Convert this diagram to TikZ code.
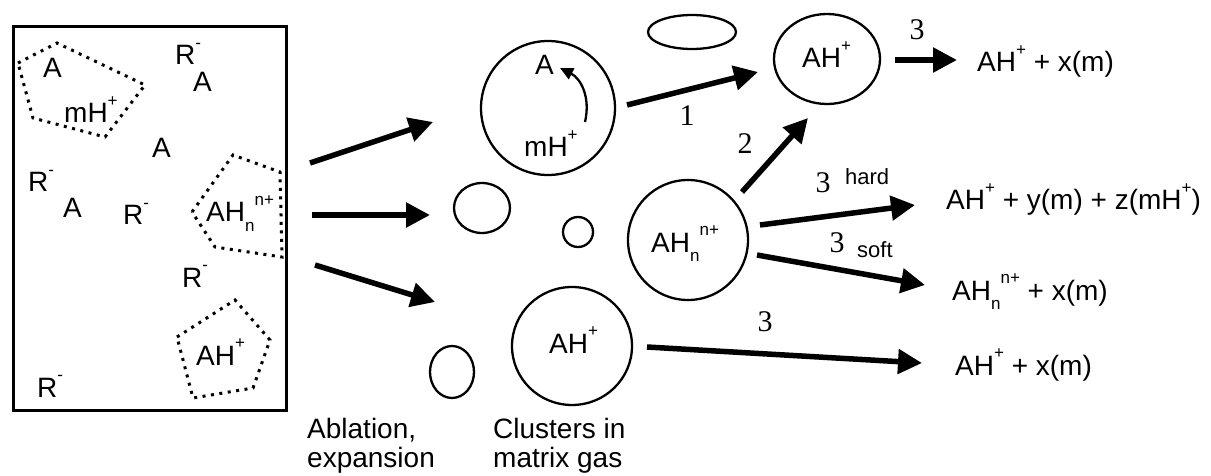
\documentclass[tikz,border=0pt]{standalone}
\usepackage{fontspec}
\setmainfont{Liberation Sans}
\newfontfamily\numfont{Liberation Serif}
\usetikzlibrary{arrows.meta,shapes.geometric}
% raised / lowered small text for charges and indices
\newcommand\sps[1]{\raisebox{0.6em}{\fontsize{17}{17}\selectfont #1}}
\newcommand\sbs[1]{\raisebox{-0.33em}{\fontsize{17}{17}\selectfont #1}}
\begin{document}
\begin{tikzpicture}[x=1pt,y=-1pt,
  txt/.style={inner sep=0pt, font=\fontsize{28}{30}\selectfont},
  num/.style={inner sep=0pt, font=\numfont\fontsize{30}{32}\selectfont},
  small/.style={inner sep=0pt, font=\fontsize{22}{24}\selectfont},
  ring/.style={ellipse, draw, line width=2.3pt, inner sep=0pt},
  flow/.style={line width=5.5pt, -{Triangle[length=24pt,width=24pt]}},
  dots/.style={line width=3pt, dash pattern=on 3pt off 5.5pt},
]
\useasboundingbox (0,0) rectangle (1211,476);

% ---- sample with matrix, analyte and counter ions ----
\node[draw, line width=3pt, minimum width=273pt, minimum height=384pt,
      anchor=north west, inner sep=0pt] (sample) at (12,25) {};

\draw[dots] (18,63) -- (57,43) -- (145,85) -- (105,137) -- (33,118) -- cycle;
\draw[dots] (192,212) -- (233,155) -- (280,172) -- (282,257) -- (215,247) -- cycle;
\draw[dots] (177,337) -- (235,300) -- (270,340) -- (253,388) -- (193,398) -- cycle;

\node[txt, anchor=base west] (sA1) at (43,78) {A};
\node[txt, anchor=base west] (smH) at (64,123) {mH\sps{+}};
\node[txt, anchor=base west] (sR1) at (175,65) {R\sps{-}};
\node[txt, anchor=base west] (sA2) at (193,92) {A};
\node[txt, anchor=base west] (sA3) at (152,158) {A};
\node[txt, anchor=base west] (sR2) at (28,192) {R\sps{-}};
\node[txt, anchor=base west] (sA4) at (63,218) {A};
\node[txt, anchor=base west] (sR3) at (123,225) {R\sps{-}};
\node[txt, anchor=base west] (sAHn) at (206,222) {AH\sbs{n}\sps{n+}};
\node[txt, anchor=base west] (sR4) at (182,287) {R\sps{-}};
\node[txt, anchor=base west] (sAH) at (196,365) {AH\sps{+}};
\node[txt, anchor=base west] (sR5) at (37,397) {R\sps{-}};

% ---- ablation plume ----
\coordinate (p1s) at (310,163); \coordinate (p1e) at (433,122);
\coordinate (p2s) at (312,215); \coordinate (p2e) at (430,215);
\coordinate (p3s) at (315,265); \coordinate (p3e) at (435,302);
\draw[flow] (p1s) -- (p1e);
\draw[flow] (p2s) -- (p2e);
\draw[flow] (p3s) -- (p3e);

% ---- clusters in the matrix gas ----
\node[ring, minimum width=134pt, minimum height=134pt] (c1) at (548,108) {};
\node[ring, minimum width=56pt, minimum height=50pt] (e1) at (482,208) {};
\node[ring, minimum width=30pt, minimum height=30pt] (e2) at (578,232) {};
\node[ring, minimum width=44pt, minimum height=52pt] (e3) at (452,372) {};
\node[ring, minimum width=88pt, minimum height=34pt] (e4) at (692,32) {};
\node[ring, minimum width=120pt, minimum height=118pt] (c2) at (572,346) {};
\node[ring, minimum width=120pt, minimum height=120pt] (c3) at (688,240) {};
\node[ring, minimum width=106pt, minimum height=90pt] (c4) at (827,59) {};

\node[txt, anchor=base west] (cA) at (535,75) {A};
\node[txt, anchor=base west] (cmH) at (524,157) {mH\sps{+}};
\coordinate (t1) at (585,122); \coordinate (t2) at (560,68);
\draw[line width=2.3pt, -{Triangle[length=13pt,width=12pt]}]
  (t1) .. controls (591,96) and (580,78) .. (t2);

\node[txt, anchor=base west] (c2t) at (549,353) {AH\sps{+}};
\node[txt, anchor=base west] (c3t) at (651,252) {AH\sbs{n}\sps{n+}};
\node[txt, anchor=base west] (c4t) at (802,68) {AH\sps{+}};

% ---- transfer and fragmentation steps ----
\coordinate (s1s) at (627,105); \coordinate (s1e) at (758,72);
\coordinate (s2s) at (742,192); \coordinate (s2e) at (808,118);
\coordinate (s3s) at (895,60);  \coordinate (s3e) at (957,60);
\coordinate (hs) at (760,225);  \coordinate (he) at (915,205);
\coordinate (ss) at (757,255);  \coordinate (se) at (925,285);
\coordinate (bs) at (647,347);  \coordinate (be) at (922,363);
\draw[flow] (s1s) -- (s1e);
\draw[flow] (s2s) -- (s2e);
\draw[flow] (s3s) -- (s3e);
\draw[flow] (hs) -- (he);
\draw[flow] (ss) -- (se);
\draw[flow] (bs) -- (be);

\node[num] (n1) at (687,116) {1};
\node[num] (n2) at (745,144) {2};
\node[num] (n3a) at (917,30) {3};
\node[num] (n3b) at (823,183) {3};
\node[small, anchor=base west] (hard) at (845,185) {hard};
\node[num] (n3c) at (837,243) {3};
\node[small, anchor=base west] (soft) at (857,257) {soft};
\node[num] (n3d) at (765,322) {3};

% ---- products ----
\node[txt, anchor=base west] (r1) at (977,72) {AH\sps{+} + x(m)};
\node[txt, anchor=base west] (r2) at (946,210) {AH\sps{+} + y(m) + z(mH\sps{+})};
\node[txt, anchor=base west] (r3) at (952,300) {AH\sbs{n}\sps{n+} + x(m)};
\node[txt, anchor=base west] (r4) at (955,375) {AH\sps{+} + x(m)};

% ---- captions ----
\node[txt, anchor=base west] (cap1) at (307,438) {Ablation,};
\node[txt, anchor=base west] (cap1b) at (307,467) {expansion};
\node[txt, anchor=base west] (cap2) at (493,438) {Clusters in};
\node[txt, anchor=base west] (cap2b) at (493,467) {matrix gas};
\end{tikzpicture}
\end{document}
